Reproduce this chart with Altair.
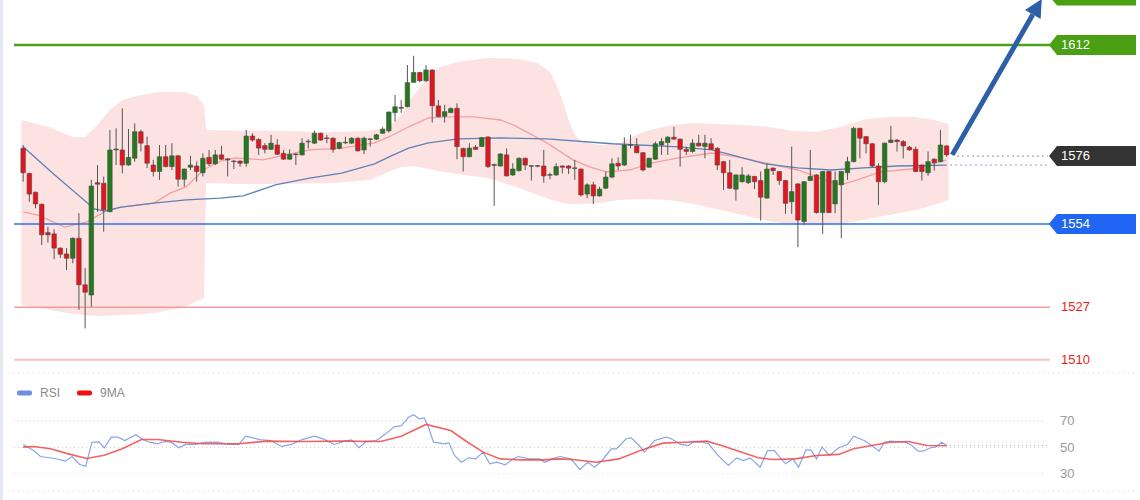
import altair as alt
import pandas as pd

# ---------------- price candles (index 0..149) ----------------
opens = [1578.5,1570.4,1564.3,1560.4,1551.2,1550.8,1546.2,1544.3,1542.9,1549.4,
         1534.3,1531.0,1567.4,1567.2,1558.0,1578.0,1578.0,1573.1,1575.3,1583.9,
         1579.4,1573.1,1571.0,1575.8,1572.6,1576.1,1568.5,1572.4,1572.8,1570.6,
         1575.6,1573.5,1576.4,1575.1,1574.4,1574.4,1573.7,1582.5,1581.4,1579.4,
         1578.2,1579.6,1576.9,1575.0,1576.7,1576.4,1580.6,1580.2,1583.4,1581.9,
         1581.8,1578.5,1580.3,1580.2,1581.8,1578.0,1581.6,1581.5,1583.4,1584.2,
         1590.1,1591.8,1592.0,1599.9,1603.1,1600.4,1603.9,1592.3,1588.9,1590.1,
         1591.5,1578.5,1575.8,1578.9,1579.1,1582.2,1573.0,1572.8,1576.4,1569.9,
         1571.3,1575.3,1572.7,1572.9,1572.8,1569.8,1569.9,1572.8,1572.8,1572.2,
         1571.8,1563.7,1566.7,1563.1,1565.6,1569.2,1573.7,1573.1,1579.5,1579.3,
         1577.1,1572.4,1575.0,1579.6,1580.4,1582.1,1581.5,1578.2,1577.5,1580.2,
         1579.1,1580.0,1578.5,1574.2,1570.6,1565.3,1567.7,1567.4,1569.4,1568.1,
         1562.4,1572.1,1571.0,1568.1,1561.2,1567.0,1554.8,1568.1,1569.9,1557.7,
         1571.0,1560.5,1566.7,1570.6,1574.2,1585.0,1582.3,1580.0,1572.8,1567.7,
         1580.4,1581.2,1580.7,1578.9,1578.2,1573.1,1570.6,1575.0,1574.2,1579.3]
highs = [1579.6,1570.6,1564.5,1560.6,1553.1,1552.3,1546.4,1546.2,1549.6,1557.5,
         1539.7,1568.3,1573.1,1569.4,1584.5,1585.0,1591.5,1584.8,1586.6,1584.5,
         1582.3,1574.8,1579.6,1579.6,1580.2,1576.3,1572.0,1576.1,1574.2,1576.9,
         1578.0,1578.0,1579.3,1575.3,1574.8,1574.6,1584.5,1583.4,1581.8,1580.2,
         1582.9,1581.5,1578.0,1578.2,1576.9,1581.8,1581.5,1584.3,1583.6,1582.9,
         1582.1,1580.6,1582.3,1582.1,1582.1,1582.3,1581.8,1583.2,1585.4,1590.4,
         1595.8,1594.2,1605.5,1608.5,1603.3,1605.5,1604.1,1594.2,1592.6,1591.8,
         1593.1,1578.7,1580.2,1579.6,1582.1,1582.4,1573.5,1576.9,1578.5,1573.7,
         1575.6,1575.5,1573.1,1573.1,1578.0,1570.6,1573.7,1573.0,1573.1,1574.8,
         1572.0,1567.2,1567.7,1566.1,1571.0,1575.3,1575.6,1582.1,1582.9,1581.8,
         1577.3,1575.5,1580.7,1581.8,1582.5,1585.5,1581.7,1579.1,1581.5,1582.9,
         1582.9,1581.8,1578.9,1574.4,1574.8,1570.1,1572.4,1570.2,1569.6,1571.0,
         1573.7,1572.4,1571.2,1568.3,1579.1,1567.2,1567.9,1578.0,1570.1,1571.2,
         1571.2,1571.0,1571.2,1575.8,1585.5,1585.2,1582.5,1580.2,1573.7,1580.4,
         1585.8,1581.5,1581.2,1579.3,1579.1,1573.3,1577.5,1575.3,1584.5,1579.5]
lows = [1567.7,1561.2,1559.1,1547.2,1548.0,1542.6,1543.0,1539.1,1541.3,1526.2,
        1520.2,1527.2,1558.0,1551.5,1557.8,1573.1,1570.4,1572.9,1574.2,1577.5,
        1572.1,1569.4,1568.3,1572.4,1571.5,1566.1,1566.1,1571.5,1567.7,1569.4,
        1572.8,1573.1,1574.8,1569.4,1571.8,1572.6,1572.6,1580.7,1576.4,1576.9,
        1578.0,1576.4,1574.8,1574.8,1573.1,1576.2,1578.5,1579.9,1581.0,1580.2,
        1577.1,1578.2,1579.9,1579.9,1577.5,1576.7,1579.1,1581.2,1583.2,1583.6,
        1587.2,1590.0,1591.8,1599.8,1600.0,1600.1,1586.9,1588.6,1586.9,1589.9,
        1575.0,1571.0,1575.6,1578.0,1578.9,1572.1,1559.9,1572.6,1569.4,1569.6,
        1571.0,1571.5,1568.1,1572.4,1567.4,1568.5,1569.6,1570.4,1570.2,1568.3,
        1562.9,1562.4,1560.5,1562.9,1565.3,1568.8,1571.5,1572.8,1578.5,1576.9,
        1571.0,1572.2,1574.8,1576.4,1576.4,1581.4,1572.6,1576.4,1577.1,1579.1,
        1575.3,1578.0,1571.5,1565.0,1565.3,1561.6,1567.4,1567.0,1565.3,1555.1,
        1562.2,1569.9,1566.7,1557.3,1557.3,1546.5,1553.7,1567.9,1557.4,1550.8,
        1557.5,1557.5,1549.4,1568.3,1574.0,1575.3,1576.9,1572.4,1560.2,1567.2,
        1580.2,1577.5,1575.3,1577.8,1570.8,1568.1,1569.6,1571.3,1574.0,1575.8]
closes = [1570.6,1563.7,1560.5,1550.5,1550.5,1546.2,1544.2,1542.9,1549.4,1534.3,
          1531.9,1566.3,1566.9,1558.6,1578.0,1578.3,1573.1,1575.6,1583.9,1580.2,
          1573.7,1571.0,1575.8,1572.6,1576.1,1568.5,1571.8,1573.1,1571.0,1575.3,
          1573.5,1576.4,1575.0,1574.8,1574.2,1573.7,1582.5,1581.2,1578.6,1578.2,
          1580.2,1576.6,1575.0,1576.6,1576.5,1580.2,1580.8,1583.4,1581.2,1581.7,
          1578.2,1580.4,1580.5,1581.8,1577.7,1581.8,1581.4,1582.9,1584.7,1590.3,
          1592.0,1591.5,1599.8,1603.1,1600.4,1603.9,1592.3,1588.8,1590.4,1591.4,
          1579.1,1575.8,1578.6,1578.2,1582.0,1572.6,1573.3,1576.7,1569.6,1571.8,
          1575.3,1573.1,1572.9,1572.7,1569.6,1570.0,1572.6,1572.4,1572.1,1572.0,
          1563.4,1566.7,1563.1,1565.3,1569.2,1573.5,1572.8,1579.6,1579.7,1577.1,
          1571.5,1575.3,1580.0,1580.7,1582.1,1581.5,1578.2,1577.5,1580.2,1579.3,
          1580.2,1578.2,1573.1,1570.6,1565.6,1569.9,1569.9,1569.6,1567.7,1562.7,
          1571.8,1571.3,1568.1,1560.7,1564.5,1555.3,1567.7,1569.4,1557.7,1571.0,
          1557.7,1568.1,1571.0,1574.2,1585.0,1581.8,1580.0,1572.8,1567.7,1580.2,
          1581.2,1580.7,1579.3,1578.0,1571.0,1571.0,1574.2,1573.9,1579.6,1576.4]

# ---------------- Bollinger band ----------------
band_idx = [-0.3, 4, 8, 10, 12, 14, 16, 19, 22, 26, 28, 29.2, 29.5, 35, 40, 50, 56, 59, 61,
            63, 65, 67, 70, 75, 80, 83, 85, 86, 87, 88, 89, 90, 93, 96, 100, 104, 108,
            112, 116, 120, 124, 128, 132, 136, 140, 144, 147, 149.3]
band_upper = [1587.7, 1585.5, 1582.2, 1582.2, 1586.1, 1591.0, 1594.2, 1595.8, 1596.8, 1596.8,
              1595.5, 1592.6, 1584.5, 1584.2, 1584.2, 1583.8, 1584.2, 1585.5, 1589.3, 1595.8,
              1600.7, 1604.6, 1606.5, 1607.8, 1607.5, 1606.2, 1603.3, 1599.1, 1594.2, 1587.7,
              1582.9, 1580.9, 1579.6, 1579.9, 1583.8, 1585.8, 1586.7, 1586.4, 1586.1, 1585.5,
              1584.2, 1583.8, 1585.5, 1588.0, 1588.7, 1588.7, 1587.7, 1586.4]
band_lower = [1527.8, 1526.2, 1524.9, 1524.5, 1524.2, 1524.3, 1524.5, 1524.7, 1525.5, 1527.0,
              1529.0, 1530.0, 1567.3, 1567.0, 1567.0, 1567.3, 1568.3, 1570.9, 1572.5, 1572.8,
              1572.0, 1571.2, 1570.2, 1568.9, 1565.7, 1563.4, 1562.0, 1561.5, 1560.8, 1560.6,
              1560.5, 1560.5, 1560.8, 1561.8, 1562.1, 1561.8, 1560.6, 1558.8, 1557.0, 1555.1,
              1553.8, 1553.4, 1554.1, 1555.5, 1557.0, 1558.5, 1560.2, 1561.8]

# ---------------- moving averages ----------------
ma_red_idx = [0, 2.4, 6.7, 10.3, 13.1, 15.8, 21.1, 23.8, 26.3, 29.1, 31.8, 34.3, 38.7, 40.7,
              46.2, 51.4, 56.7, 59.0, 62.2, 65.4, 68.6, 72.7, 77.0, 79.1, 84.5, 88.7, 91.4,
              94.1, 97.8, 101.5, 105.8, 111.1, 115.4, 119.7, 125.0, 129.3, 131.9, 134.6,
              138.3, 143.7, 149]
ma_red_val = [1557.9, 1556.9, 1553.0, 1554.7, 1557.9, 1559.5, 1560.8, 1564.1, 1566.0, 1571.5,
              1574.4, 1575.4, 1574.8, 1575.7, 1578.0, 1578.6, 1580.3, 1582.2, 1585.5, 1588.4,
              1588.7, 1588.7, 1587.7, 1586.1, 1580.3, 1574.8, 1572.5, 1570.9, 1571.5, 1573.8,
              1575.4, 1577.0, 1575.7, 1573.8, 1571.5, 1568.3, 1566.7, 1568.3, 1570.9, 1571.9,
              1574.8]
ma_blue_idx = [0, 5.1, 11.5, 13.1, 15.8, 21.1, 26.3, 31.8, 35.5, 40.7, 46.2, 51.4, 56.7,
               59.4, 62.2, 65.4, 70.2, 77.0, 84.5, 95.1, 105.8, 111.1, 114.3, 119.7, 125.0,
               130.3, 135.7, 141.0, 149]
ma_blue_val = [1579.0, 1569.9, 1558.9, 1558.2, 1559.5, 1560.8, 1561.8, 1562.4, 1563.1, 1566.7,
               1568.9, 1570.5, 1573.5, 1576.1, 1578.6, 1580.3, 1581.6, 1581.9, 1581.6, 1580.0,
               1579.0, 1578.0, 1576.4, 1573.5, 1572.2, 1571.5, 1572.2, 1572.8, 1573.1]

# ---------------- levels ----------------
resistance = [1612]
last_price = [1576]
support = [1554]
weak_levels = [1527, 1510]
target = [1628]

arrow_idx = [149.9, 162.9]
arrow_price = [1576.4, 1621.9]
arrow_head_idx = [163.55]
arrow_head_price = [1624.1]

# ---------------- RSI panel ----------------
rsi_idx = [0, 1.7, 2.8, 5.1, 6.8, 7.9, 9.1, 10.1, 11.1, 12.2, 13.1, 14.2, 15.3, 16.4, 18.2,
           19.3, 20.4, 21.7, 22.8, 23.9, 25.1, 26.2, 27.9, 29.1, 31.3, 33.1, 34.8, 35.9,
           38.2, 39.9, 41.7, 43.3, 45.0, 47.0, 48.4, 50.2, 51.9, 53.0, 54.2, 55.3, 57.0,
           58.5, 59.9, 61.0, 62.2, 63.0, 63.9, 64.7, 65.4, 66.2, 67.9, 68.7, 69.6, 70.7,
           71.9, 73.0, 74.2, 75.3, 76.4, 77.8, 78.8, 79.9, 81.7, 83.3, 84.2, 85.3, 86.6,
           88.4, 89.8, 91.1, 92.2, 93.4, 94.9, 95.7, 97.3, 98.1, 99.4, 100.2, 101.9, 103.7,
           104.4, 106.1, 107.3, 108.2, 109.7, 110.6, 112.1, 113.8, 115.1, 116.2, 117.3,
           118.9, 120.1, 121.2, 123.0, 124.2, 125.1, 126.3, 127.1, 128.0, 128.9, 130.1,
           131.6, 133.0, 134.0, 135.7, 136.9, 138.1, 138.9, 139.9, 142.3, 143.4, 144.4,
           145.2, 146.4, 147.2, 148.2, 149]
rsi_val = [52.3, 47.7, 43.2, 41.7, 39.7, 43.2, 37.2, 35.9, 54.0, 54.3, 49.8, 57.8, 57.8, 55.3,
           59.6, 56.0, 54.0, 52.8, 54.5, 54.0, 49.8, 52.3, 52.3, 53.8, 54.0, 52.3, 52.3, 58.5,
           56.0, 55.3, 50.8, 52.3, 56.0, 58.5, 56.5, 52.3, 54.8, 55.8, 49.8, 54.5, 55.3, 60.3,
           65.8, 66.3, 72.9, 74.7, 71.7, 72.4, 65.3, 54.0, 52.8, 53.5, 44.0, 38.9, 42.2, 41.4,
           46.5, 37.7, 38.9, 36.9, 40.7, 43.2, 41.4, 41.4, 38.9, 41.4, 43.2, 41.4, 33.4, 38.9,
           35.1, 40.2, 49.0, 49.0, 56.6, 57.3, 51.5, 46.5, 55.3, 57.8, 57.0, 52.3, 51.5, 54.5,
           54.0, 52.8, 44.0, 36.4, 42.2, 40.2, 42.2, 35.1, 47.7, 47.7, 37.7, 41.4, 35.1, 48.2,
           48.2, 41.4, 50.3, 44.0, 49.8, 52.3, 58.5, 55.3, 51.5, 47.2, 54.0, 54.8, 54.0, 51.5,
           47.2, 47.2, 49.8, 50.3, 54.0, 51.5]
ma9_idx = [0, 1.7, 4.4, 7.3, 10.2, 13.1, 16.0, 19.1, 21.7, 25.6, 29.1, 34.8, 39.3, 45.7, 51.3,
           57.7, 61.0, 65.0, 69.0, 71.3, 74.2, 77.0, 80.4, 83.9, 86.6, 89.0, 92.5, 96.1, 99.6,
           103.2, 106.8, 110.3, 112.7, 115.1, 118.6, 121.0, 124.5, 128.0, 131.6, 134.0,
           136.9, 139.9, 142.8, 145.8, 149]
ma9_val = [50.3, 50.8, 49.0, 45.2, 41.7, 44.2, 49.0, 56.0, 56.0, 54.0, 52.8, 52.8, 54.8, 54.5,
           54.8, 54.5, 58.5, 67.4, 62.8, 55.3, 46.5, 41.4, 40.7, 40.7, 41.4, 40.7, 38.9, 41.4,
           47.7, 53.3, 54.0, 54.8, 51.5, 47.7, 42.2, 40.9, 41.4, 44.0, 44.8, 49.0, 51.5, 54.0,
           54.5, 51.5, 51.3]
rsi_levels = [70, 50, 30]
legend_names = ["RSI", "9MA"]

# ---------------- scales ----------------
XS = alt.Scale(domain=[-2.9266, 179.39], nice=False, zero=False)
PS = alt.Scale(domain=[1464.58, 1626.58], nice=False, zero=False)
RS = alt.Scale(domain=[10.38, 387.74], nice=False, zero=False)
FONT = "Liberation Sans"

def X(f):
    return alt.X(f, type="quantitative", scale=XS, axis=None)

def YP(f):
    return alt.Y(f, type="quantitative", scale=PS, axis=None)

def YR(f):
    return alt.Y(f, type="quantitative", scale=RS, axis=None)

candles = pd.DataFrame({"i": list(range(len(opens))), "open": opens, "high": highs,
                        "low": lows, "close": closes})
candles["dir"] = ["up" if c >= o else "down" for o, c in zip(opens, closes)]
band = pd.DataFrame({"i": band_idx, "up": band_upper, "lo": band_lower})
ma_red = pd.DataFrame({"i": ma_red_idx, "v": ma_red_val})
ma_blue = pd.DataFrame({"i": ma_blue_idx, "v": ma_blue_val})
rsi = pd.DataFrame({"i": rsi_idx, "v": rsi_val})
ma9 = pd.DataFrame({"i": ma9_idx, "v": ma9_val})

layers = []

# left frame strip
layers.append(alt.Chart(pd.DataFrame({"a": [0]})).mark_rule(color="#e4e9ef", strokeWidth=3).encode(
    x=alt.value(1.5), y=alt.value(0), y2=alt.value(500)))
# panel separators
for yy in [373, 491]:
    layers.append(alt.Chart(pd.DataFrame({"a": [0]})).mark_rule(
        color="#d8d8d8", strokeWidth=1, strokeDash=[1, 4]).encode(
        x=alt.value(3), x2=alt.value(1135), y=alt.value(yy)))

# Bollinger band
layers.append(alt.Chart(band).mark_area(color="#fde2e2", opacity=1).encode(
    x=X("i"), y=YP("up"), y2="lo"))

# moving averages
layers.append(alt.Chart(ma_red).mark_line(color="#f3a0a0", strokeWidth=1.3).encode(
    x=X("i"), y=YP("v")))
layers.append(alt.Chart(ma_blue).mark_line(color="#5d82ba", strokeWidth=1.3).encode(
    x=X("i"), y=YP("v")))

# horizontal levels
def hline(vals, color, width, x1=14, x2=1050, dash=None):
    kw = dict(color=color, strokeWidth=width)
    if dash:
        kw["strokeDash"] = dash
    return alt.Chart(pd.DataFrame({"v": vals})).mark_rule(**kw).encode(
        x=alt.value(x1), x2=alt.value(x2), y=YP("v"))

layers.append(hline(resistance, "#4da317", 2.5))
layers.append(hline(support, "#2f72f0", 1.5))
layers.append(hline(weak_levels[:1], "#f39c9c", 1.5))
layers.append(hline(weak_levels[1:], "#f8c2c2", 2))
layers.append(hline(last_price, "#8c8c8c", 1, x1=957, x2=1048, dash=[2, 3]))
layers.append(hline(ma_blue_val[-1:], "#8fa8d8", 1, x1=950, x2=1048, dash=[2, 3]))

# candles
layers.append(alt.Chart(candles).mark_rule(color="#555555", strokeWidth=1).encode(
    x=X("i"), y=YP("low"), y2="high"))
layers.append(alt.Chart(candles).mark_bar(size=4.5, stroke="#4a4a4a", strokeWidth=0.6).encode(
    x=X("i"), y=YP("open"), y2="close",
    color=alt.Color("dir:N", scale=alt.Scale(domain=["up", "down"], range=["#237a1b", "#e8131b"]),
                    legend=None)))

# arrow
arrow = pd.DataFrame({"i0": arrow_idx[:1], "i1": arrow_idx[1:], "p0": arrow_price[:1], "p1": arrow_price[1:]})
layers.append(alt.Chart(arrow).mark_rule(color="#2d5fa6", strokeWidth=5).encode(
    x=X("i0"), x2="i1", y=YP("p0"), y2="p1"))
layers.append(alt.Chart(pd.DataFrame({"i": arrow_head_idx, "p": arrow_head_price})).mark_point(
    shape="M0,-1 L0.9,0.8 L-0.9,0.8 Z", size=400, angle=30, filled=True, opacity=1,
    color="#2d5fa6", strokeWidth=0).encode(x=X("i"), y=YP("p")))

# label boxes
BOX = "M-1,0 L-0.816,-0.23 L1,-0.23 L1,0.23 L-0.816,0.23 Z"
def box(vals, color):
    return alt.Chart(pd.DataFrame({"v": vals})).mark_point(
        shape=BOX, size=7569, filled=True, opacity=1, color=color, strokeWidth=0).encode(
        x=alt.value(1092.5), y=YP("v"))

def label(vals, color):
    return alt.Chart(pd.DataFrame({"v": vals})).mark_text(
        align="left", baseline="middle", font=FONT, fontSize=13, color=color).encode(
        x=alt.value(1061), y=YP("v"), text=alt.Text("v:Q", format="d"))

layers.append(box(target, "#4a9f12"))
layers.append(box(resistance, "#4a9f12"))
layers.append(box(last_price, "#333333"))
layers.append(box(support, "#1f66f2"))
layers.append(label(resistance, "white"))
layers.append(label(last_price, "white"))
layers.append(label(support, "white"))
layers.append(label(weak_levels, "#f01c1c"))

# RSI panel
layers.append(alt.Chart(pd.DataFrame({"v": rsi_levels})).mark_rule(
    color="#cfcfcf", strokeWidth=1, strokeDash=[1, 3]).encode(
    x=alt.value(14), x2=alt.value(1046), y=YR("v")))
layers.append(alt.Chart(pd.DataFrame({"v": rsi_val[-1:]})).mark_rule(
    color="#9fb4e4", strokeWidth=1, strokeDash=[1, 3]).encode(
    x=alt.value(950), x2=alt.value(1048), y=YR("v")))
layers.append(alt.Chart(pd.DataFrame({"v": rsi_levels})).mark_text(
    align="left", baseline="middle", font=FONT, fontSize=13, color="#9a9a9a").encode(
    x=alt.value(1060), y=YR("v"), text=alt.Text("v:Q", format="d")))
layers.append(alt.Chart(rsi).mark_line(color="#8aa4e8", strokeWidth=1.2).encode(
    x=X("i"), y=YR("v")))
layers.append(alt.Chart(ma9).mark_line(color="#f04848", strokeWidth=1.6, opacity=0.85).encode(
    x=X("i"), y=YR("v")))

# legend
for name, sx, col in [(legend_names[0], 17, "#6f8fe0"), (legend_names[1], 77, "#ee1111")]:
    layers.append(alt.Chart(pd.DataFrame({"a": [0]})).mark_rect(color=col, cornerRadius=2).encode(
        x=alt.value(sx), x2=alt.value(sx + 15), y=alt.value(390.5), y2=alt.value(395.5)))
    layers.append(alt.Chart(pd.DataFrame({"t": [name]})).mark_text(
        align="left", baseline="middle", font=FONT, fontSize=12, color="#8a8a8a").encode(
        x=alt.value(sx + 23), y=alt.value(393), text="t:N"))

chart = alt.layer(*layers).properties(
    width=1140, height=500, padding=0,
    autosize=alt.AutoSizeParams(type="none"),
    background="white",
).resolve_scale(y="independent").configure_view(stroke=None)

chart.save("out.html", embed_options={"renderer": "svg", "actions": False})
